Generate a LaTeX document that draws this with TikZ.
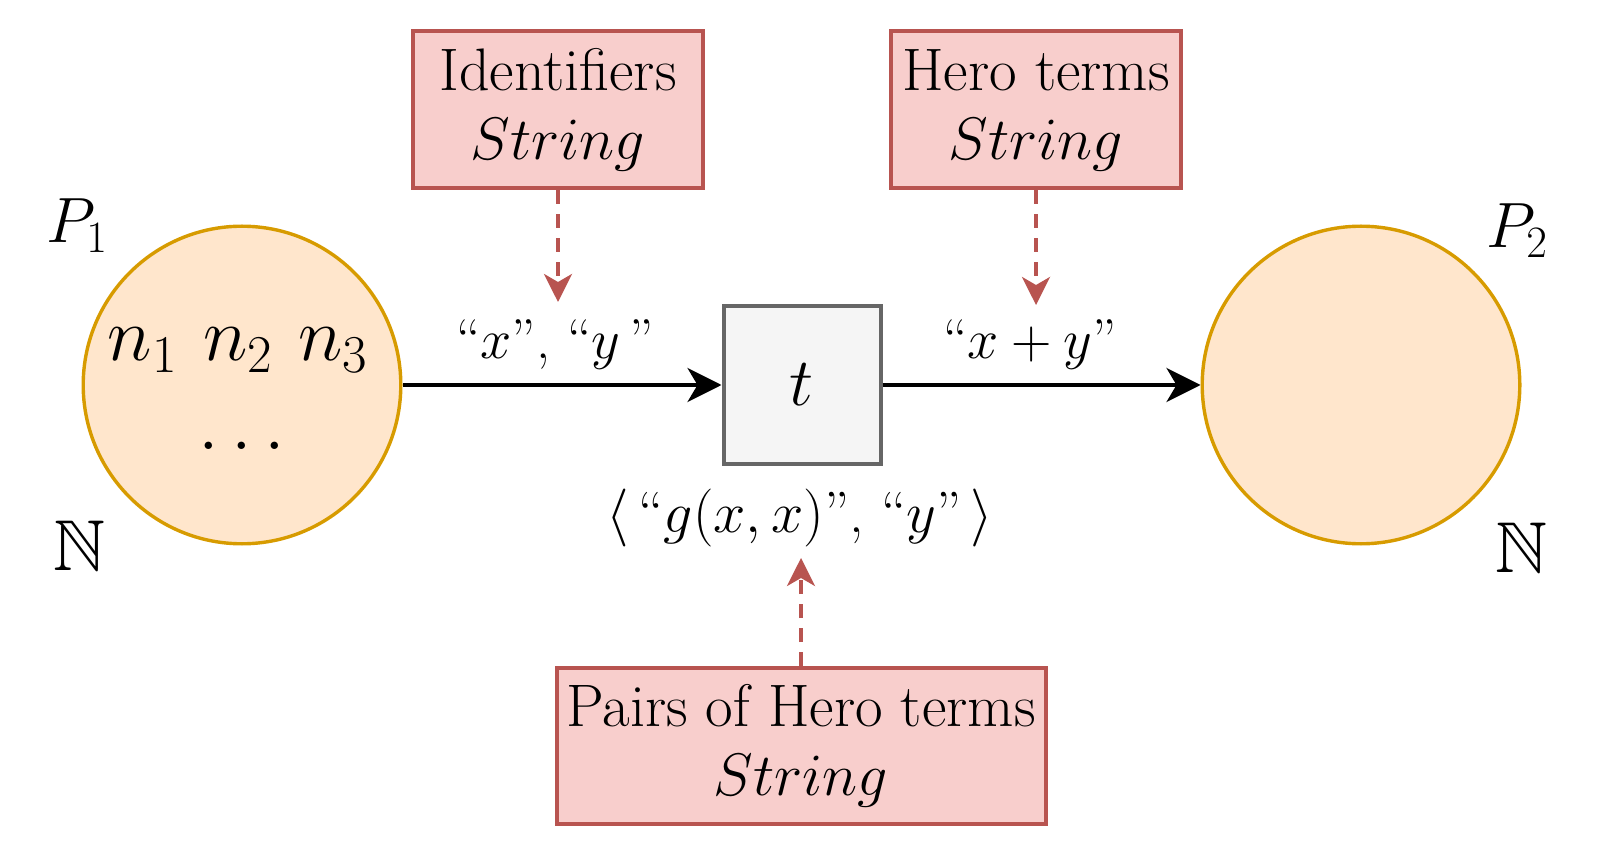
\RequirePackage{fix-cm}
\documentclass[tikz,border=0pt]{standalone}
\usepackage{amssymb}
\usetikzlibrary{arrows.meta}
\definecolor{placefill}{HTML}{FFE6CC}
\definecolor{placedraw}{HTML}{D79B00}
\definecolor{transfill}{HTML}{F5F5F5}
\definecolor{transdraw}{HTML}{666666}
\definecolor{redfill}{HTML}{F8CECC}
\definecolor{reddraw}{HTML}{B85450}
\begin{document}
\begin{tikzpicture}[x=0.5pt,y=-0.5pt,
  place/.style={circle, draw=placedraw, fill=placefill, line width=1.7pt, minimum size=158.8pt, inner sep=0pt},
  trans/.style={rectangle, draw=transdraw, fill=transfill, line width=2pt, minimum width=78.5pt, minimum height=78.5pt, inner sep=0pt},
  typebox/.style={rectangle, draw=reddraw, fill=redfill, line width=2pt, align=center, font=\fontsize{30}{34.5}\selectfont, inner sep=0pt},
  flow/.style={-{Stealth[length=17pt,width=17pt,inset=5pt]}, line width=2pt},
  typearrow/.style={-{Stealth[length=14pt,width=14pt,inset=4pt]}, line width=1.8pt, draw=reddraw, dash pattern=on 7pt off 5pt},
  lbl/.style={font=\fontsize{28}{33}\selectfont},
  biglbl/.style={font=\fontsize{29}{35}\selectfont},
  plbl/.style={font=\fontsize{32}{38}\selectfont, anchor=base},
  natlbl/.style={font=\fontsize{36}{43}\selectfont, anchor=base}]
\useasboundingbox (0,0) rectangle (1604,860);

% places
\node[place] (p1c) at (242,385) {};
\node[place] (p2c) at (1361,385) {};
\node[font=\fontsize{38}{46}\selectfont] (ns) at (238,350) {$n_1\mkern6mu n_2\mkern6mu n_3$};
\node[font=\fontsize{38}{46}\selectfont] (dots) at (242,446) {$\ldots$};
\node[plbl] (p1) at (77,243) {$P_1$};
\node[natlbl] (nat1) at (80,570) {$\mathbb{N}$};
\node[plbl] (p2) at (1517,248) {$P_2$};
\node[natlbl] (nat2) at (1521,572) {$\mathbb{N}$};

% transition
\node[trans, font=\fontsize{34}{40}\selectfont] (t) at (802,385) {$t$};

% type boxes
\node[typebox, minimum width=145pt, minimum height=78.5pt] (ids) at (558,110) {Identifiers\\ $String$};
\node[typebox, minimum width=145pt, minimum height=78.5pt] (hero) at (1036,110) {Hero terms\\ $String$};
\node[typebox, minimum width=244.5pt, minimum height=78pt] (pairs) at (801,746) {Pairs of Hero terms\\ $String$};

% labels
\node[lbl] (lxy) at (555,345) {``$x$'', ``$y$\,''};
\node[lbl] (lxpy) at (1030,345) {``$x+y$''};
\node[biglbl] (lpair) at (800,518) {$\langle$\,``$g(x,x)$'', ``$y$''\,$\rangle$};

% flow arcs
\draw[flow] (p1c.east) -- (t.west);
\draw[flow] (t.east) -- (p2c.west);

% type arrows
\coordinate (idtip) at (558,302);
\coordinate (herotip) at (1036,305);
\coordinate (pairtip) at (801,558);
\draw[typearrow] (ids.south) -- (idtip);
\draw[typearrow] (hero.south) -- (herotip);
\draw[typearrow] (pairs.north) -- (pairtip);
\end{tikzpicture}
\end{document}
